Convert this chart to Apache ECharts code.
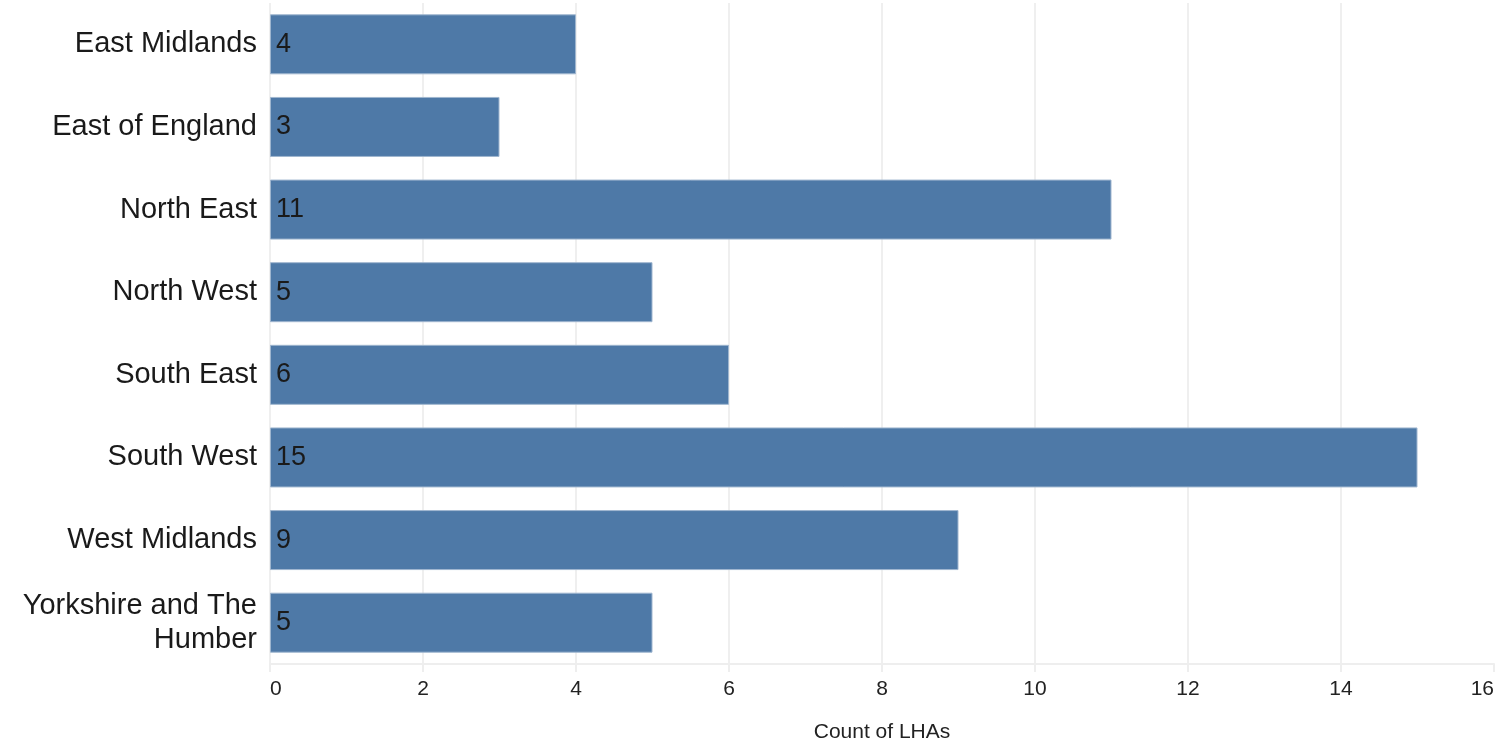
<!DOCTYPE html>
<html>
<head>
<meta charset="utf-8">
<script src="https://cdn.jsdelivr.net/npm/echarts@6/dist/echarts.min.js"></script>
<style>html,body{margin:0;padding:0;background:#fff}#c{width:1499px;height:748px}</style>
</head>
<body>
<div id="c"></div>
<script>
const categories = ["East Midlands","East of England","North East","North West","South East","South West","West Midlands","Yorkshire and The Humber"];
const counts = [4,3,11,5,6,15,9,5];
const xTicks = {min:0, max:16, interval:2};
const axisName = "Count of LHAs";

const FONT = 'Arial, "Liberation Sans", sans-serif';
const chart = echarts.init(document.getElementById('c'));
chart.setOption({
  animation:false,
  backgroundColor:'#ffffff',
  textStyle:{fontFamily:FONT},
  grid:{left:270, right:5, top:3, height:665, containLabel:false},
  xAxis:{
    type:'value', min:xTicks.min, max:xTicks.max, interval:xTicks.interval,
    name:axisName, nameLocation:'middle', nameGap:58,
    nameTextStyle:{fontSize:21, color:'#222', fontFamily:FONT},
    axisLine:{show:true, lineStyle:{color:'#eeeeee', width:2}},
    axisTick:{show:true, length:8, lineStyle:{color:'#eeeeee', width:2}},
    splitLine:{show:true, showMaxLine:false, lineStyle:{color:'#efefef', width:2}},
    axisLabel:{fontSize:21, color:'#222', margin:15, fontFamily:FONT, alignMinLabel:'left', alignMaxLabel:'right'}
  },
  yAxis:{
    type:'category', data:categories, inverse:true,
    axisLine:{show:false}, axisTick:{show:false}, splitLine:{show:false},
    axisLabel:{fontSize:29, color:'#1a1a1a', margin:13, lineHeight:34, fontFamily:FONT,
      formatter:function(v){return v==='Yorkshire and The Humber' ? 'Yorkshire and The\nHumber' : v;}}
  },
  series:[{
    type:'bar', data:counts, barWidth:60,
    itemStyle:{color:'#4e79a7', borderColor:'#9fb6cf', borderWidth:1},
    label:{show:true, position:'insideLeft', distance:6, fontSize:27, color:'#1a1a1a', fontFamily:FONT}
  }]
});
</script>
</body>
</html>
